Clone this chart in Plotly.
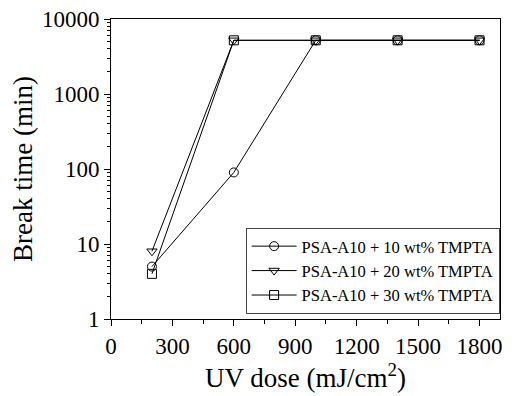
import plotly.graph_objects as go

dose = [200, 600, 1000, 1400, 1800]
names = ["PSA-A10 + 10 wt% TMPTA", "PSA-A10 + 20 wt% TMPTA", "PSA-A10 + 30 wt% TMPTA"]
s10 = [5, 90, 5200, 5200, 5200]
s20 = [8, 5200, 5200, 5200, 5200]
s30 = [4, 5200, 5200, 5200, 5200]
symbols = ["circle-open", "triangle-down-open", "square-open"]
xticks = [0, 300, 600, 900, 1200, 1500, 1800]
yticks = [1, 10, 100, 1000, 10000]

font = "Liberation Serif"
fig = go.Figure()
for name, ys, sym in zip(names, [s10, s20, s30], symbols):
    fig.add_trace(go.Scatter(
        x=dose, y=ys, name=name, mode="lines+markers",
        line=dict(color="black", width=1),
        marker=dict(symbol=sym, size=9, color="black", line=dict(width=1, color="black")),
    ))

fig.update_layout(
    width=515, height=388,
    margin=dict(l=103, r=23, t=11, b=77),
    plot_bgcolor="white", paper_bgcolor="white",
    font=dict(family=font, color="black", size=23),
    legend=dict(x=0.999, y=0.017, xanchor="right", yanchor="bottom",
                bordercolor="#444", borderwidth=1, bgcolor="white",
                font=dict(size=16.5, family=font), tracegroupgap=0, itemwidth=45),
    showlegend=True,
)
fig.update_xaxes(
    range=[0, 1900], tickvals=xticks, ticktext=[str(v) for v in xticks],
    showline=True, linecolor="black", linewidth=1, mirror=True, automargin=False,
    ticks="outside", ticklen=6, tickcolor="black", showgrid=False, zeroline=False,
    ticklabeloverflow="allow",
    minor=dict(ticks="outside", ticklen=4, dtick=150, tickcolor="black"),
    title=dict(text="UV dose (mJ/cm<sup>2</sup>)", font=dict(size=27, family=font), standoff=4),
    tickfont=dict(size=23, family=font),
)
fig.update_yaxes(
    type="log", range=[0, 4], tickvals=yticks, ticktext=[str(v) for v in yticks],
    showline=True, linecolor="black", linewidth=1, mirror=True, automargin=False,
    ticks="outside", ticklen=6, tickcolor="black", showgrid=False, zeroline=False,
    ticklabeloverflow="allow",
    minor=dict(ticks="outside", ticklen=3, dtick="D1", tickcolor="black"),
    title=dict(text="Break time (min)", font=dict(size=27, family=font), standoff=6),
    tickfont=dict(size=23, family=font),
)
fig.write_html("out.html")
